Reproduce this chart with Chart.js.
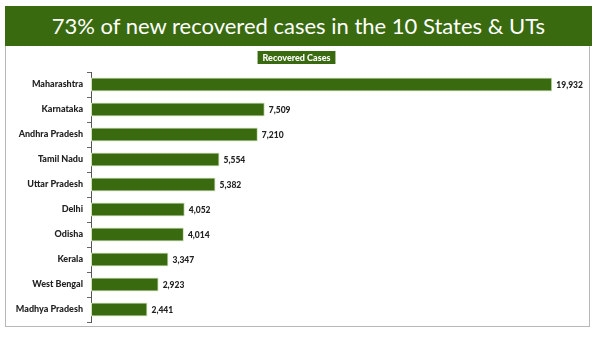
<!DOCTYPE html>
<html>
<head>
<meta charset="utf-8">
<script src="https://cdn.jsdelivr.net/npm/chart.js@4"></script>
<style>
    body { margin: 0; width: 600px; height: 338px; background: #fff; position: relative; overflow: hidden; }
    .banner {
        position: absolute; left: 5px; top: 6px; width: 587px; height: 40px;
        background: #3a6a10; color: #fff;
        font-family: Lato, 'Open Sans', sans-serif; font-size: 22px;
        text-align: center; line-height: 40px;
    }
    .frame {
        position: absolute; left: 5px; top: 46px; width: 583px; height: 280px;
        border: 1px solid #b8b8b8; border-top: none;
    }
    #chart { position: absolute; left: 0; top: 0; }
</style>
</head>
<body>
<div class="banner">73% of new recovered cases in the 10 States &amp; UTs</div>
<div class="frame"></div>
<canvas id="chart" width="600" height="338"></canvas>
<script>
// 数据
const states = ['Maharashtra', 'Karnataka', 'Andhra Pradesh', 'Tamil Nadu', 'Uttar Pradesh',
    'Delhi', 'Odisha', 'Kerala', 'West Bengal', 'Madhya Pradesh'];
const recovered = [19932, 7509, 7210, 5554, 5382, 4052, 4014, 3347, 2923, 2441];
const seriesLabel = 'Recovered Cases';

const green = '#3a6a10';
const labelFont = 'Lato, "Open Sans", sans-serif';

// 图例：绿色底白字
const legendBox = {
    id: 'legendBox',
    afterDraw(chart) {
        const ctx = chart.ctx;
        const text = chart.data.datasets[0].label;
        ctx.save();
        ctx.font = '900 9px ' + labelFont;
        const w = ctx.measureText(text).width + 10;
        const cx = 296.5, cy = 57.5;
        ctx.fillStyle = green;
        ctx.fillRect(cx - w / 2, cy - 6.5, w, 13);
        ctx.fillStyle = '#fff';
        ctx.textAlign = 'center';
        ctx.textBaseline = 'middle';
        ctx.fillText(text, cx, cy + 0.5);
        ctx.restore();
    }
};

// 数值标签
const valueLabels = {
    id: 'valueLabels',
    afterDatasetsDraw(chart) {
        const ctx = chart.ctx;
        const meta = chart.getDatasetMeta(0);
        ctx.save();
        ctx.font = '900 8.5px ' + labelFont;
        ctx.fillStyle = '#222';
        ctx.textBaseline = 'middle';
        meta.data.forEach((bar, i) => {
            ctx.fillText(recovered[i].toLocaleString('en-US'), bar.x + 4, bar.y + 0.5);
        });
        ctx.restore();
    }
};

new Chart(document.getElementById('chart'), {
    type: 'bar',
    data: {
        labels: states,
        datasets: [{
            label: seriesLabel,
            data: recovered,
            backgroundColor: green,
            borderColor: '#cfe0b8',
            borderWidth: 1,
            borderSkipped: false,
            barPercentage: 0.62,
            categoryPercentage: 0.9
        }]
    },
    options: {
        indexAxis: 'y',
        responsive: false,
        animation: false,
        layout: { padding: { left: 11, right: 23, top: 72, bottom: 16 } },
        plugins: {
            legend: { display: false },
            tooltip: { enabled: false }
        },
        scales: {
            x: { display: false, min: 0, max: 21000 },
            y: {
                afterFit(scale) { scale.width = 80; },
                grid: { drawOnChartArea: false, drawTicks: true, tickLength: 4, color: '#666' },
                border: { display: true, color: '#555' },
                ticks: {
                    color: '#222',
                    padding: 4,
                    font: { family: labelFont, size: 9, weight: '900' }
                }
            }
        }
    },
    plugins: [legendBox, valueLabels]
});
</script>
</body>
</html>
